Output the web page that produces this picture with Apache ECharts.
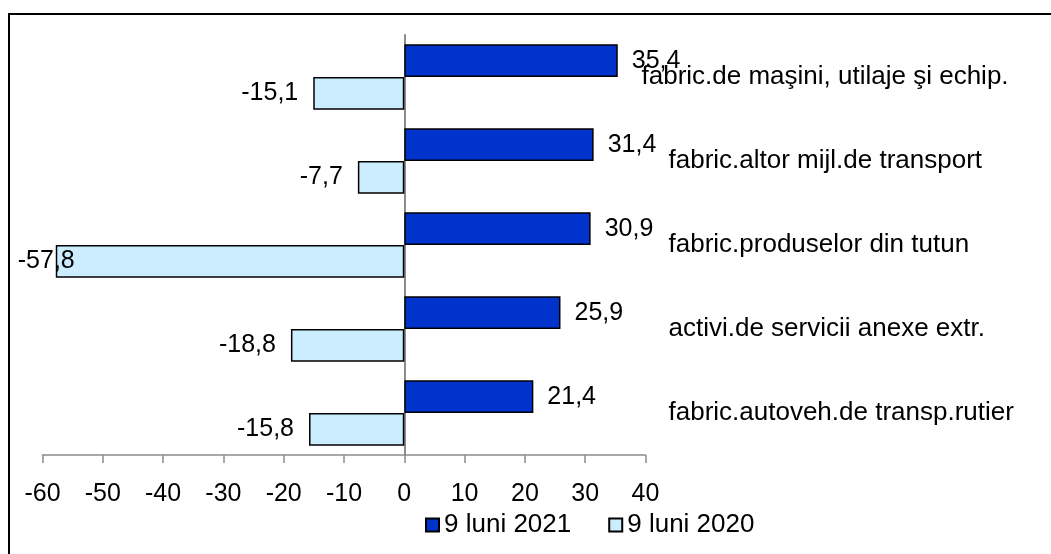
<!DOCTYPE html>
<html>
<head>
<meta charset="utf-8">
<script src="https://cdn.jsdelivr.net/npm/echarts@6/dist/echarts.min.js"></script>
<style>
  html, body { margin: 0; padding: 0; background: #fff; }
  #chart { width: 1051px; height: 554px; }
</style>
</head>
<body>
<div id="chart"></div>
<script>
const categories = [
  'fabric.de maşini, utilaje şi echip.',
  'fabric.altor mijl.de transport',
  'fabric.produselor din tutun',
  'activi.de servicii anexe extr.',
  'fabric.autoveh.de transp.rutier'
];
const series2021 = [35.4, 31.4, 30.9, 25.9, 21.4];
const series2020 = [-15.1, -7.7, -57.8, -18.8, -15.8];
const seriesNames = ['9 luni 2021', '9 luni 2020'];

const font = 'Liberation Sans, Arial, sans-serif';
const fmt = v => v.toFixed(1).replace('.', ',');

const chart = echarts.init(document.getElementById('chart'));

// the long -57,8 bar pushes its label against the plot edge
const data2020 = series2020.map(v => {
  if (v < -50) {
    return { value: v, label: { position: 'insideLeft', distance: 5, offset: [-43, 0] } };
  }
  return v;
});

const option = {
  animation: false,
  textStyle: { fontFamily: font },
  graphic: [{
    type: 'rect',
    shape: { x: 9, y: 14, width: 1100, height: 600 },
    style: { fill: 'none', stroke: '#000', lineWidth: 2 },
    silent: true
  }],
  grid: { left: 42.5, right: 405.5, top: 35, bottom: 99, outerBoundsMode: 'none' },
  legend: {
    data: seriesNames,
    left: 420,
    top: 507,
    itemWidth: 13,
    itemHeight: 13,
    itemGap: 37,
    icon: 'rect',
    textStyle: { fontSize: 26, color: '#000', fontFamily: font }
  },
  xAxis: {
    type: 'value',
    min: -60,
    max: 40,
    interval: 10,
    splitLine: { show: false },
    axisLine: { show: true, lineStyle: { color: '#8c8c8c', width: 1.5 } },
    axisTick: { show: true, length: 8, lineStyle: { color: '#8c8c8c', width: 1.5 } },
    axisLabel: { fontSize: 25, color: '#000', margin: 27, fontFamily: font }
  },
  yAxis: {
    type: 'category',
    data: categories,
    inverse: true,
    position: 'right',
    axisLine: { show: true, onZero: true, lineStyle: { color: '#8c8c8c', width: 2 } },
    axisTick: { show: false },
    axisLabel: {
      margin: -4,
      color: '#000',
      fontSize: 26,
      fontFamily: font,
      formatter: (value, index) => index === 0 ? '{a|' + value + '}' : '{b|' + value + '}',
      rich: {
        a: { fontSize: 26, fontFamily: font, color: '#000' },
        b: { fontSize: 26, fontFamily: font, color: '#000', padding: [0, 0, 0, 27] }
      }
    }
  },
  series: [
    {
      name: seriesNames[0],
      type: 'bar',
      data: series2021,
      barGap: 0,
      barCategoryGap: '22%',
      itemStyle: { color: '#0033cc', borderColor: '#000', borderWidth: 1.5 },
      label: {
        show: true,
        position: 'right',
        distance: 14,
        fontSize: 25,
        color: '#000',
        fontFamily: font,
        formatter: p => fmt(p.value)
      }
    },
    {
      name: seriesNames[1],
      type: 'bar',
      data: data2020,
      barGap: 0,
      barCategoryGap: '22%',
      itemStyle: { color: '#ccecff', borderColor: '#000', borderWidth: 1.5 },
      label: {
        show: true,
        position: 'left',
        distance: 15,
        fontSize: 25,
        color: '#000',
        fontFamily: font,
        formatter: p => fmt(p.value)
      }
    }
  ]
};

chart.setOption(option);
</script>
</body>
</html>
